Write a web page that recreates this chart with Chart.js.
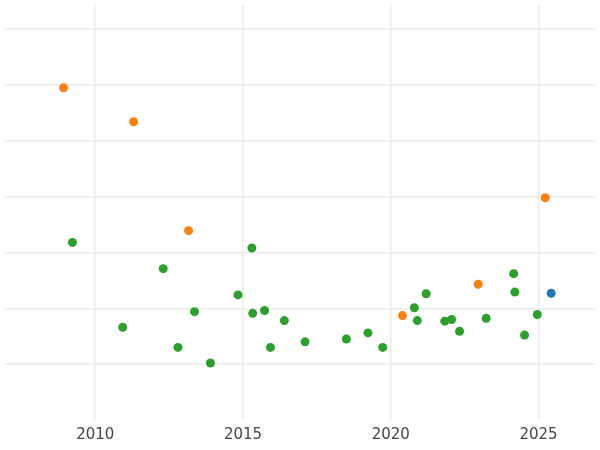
<!DOCTYPE html>
<html>
<head>
<script src="https://cdn.jsdelivr.net/npm/chart.js@4"></script>
<style>
  html, body { margin: 0; padding: 0; background: #fff; }
  #wrap { width: 600px; height: 450px; }
</style>
</head>
<body>
<div id="wrap"><canvas id="c"></canvas></div>
<script>
// Data
const orangeX = [2008.93, 2011.30, 2013.16, 2020.40, 2022.96, 2025.23];
const orangeY = [5.95, 5.34, 3.39, 1.87, 2.43, 3.98];
const blueX = [2025.43];
const blueY = [2.27];
const greenX = [2009.23, 2010.93, 2012.30, 2012.80, 2013.36, 2013.90, 2014.83, 2015.30, 2015.33,
  2015.73, 2015.93, 2016.40, 2017.10, 2018.50, 2019.23, 2019.73, 2020.80, 2020.90, 2021.20,
  2021.83, 2022.06, 2022.33, 2023.23, 2024.16, 2024.20, 2024.53, 2024.96];
const greenY = [3.18, 1.66, 2.71, 1.30, 1.94, 1.02, 2.24, 3.08, 1.91,
  1.96, 1.30, 1.78, 1.40, 1.45, 1.56, 1.30, 2.01, 1.78, 2.26,
  1.77, 1.80, 1.59, 1.82, 2.62, 2.29, 1.52, 1.89];
const xTicks = [2010, 2015, 2020, 2025];

const pts = (xs, ys) => xs.map((x, i) => ({ x: x, y: ys[i] }));
const ds = (xs, ys, color) => ({
    data: pts(xs, ys),
    backgroundColor: color,
    borderWidth: 0,
    pointRadius: 4.5
});

new Chart(document.getElementById('c'), {
    type: 'scatter',
    data: {
        datasets: [
            ds(greenX, greenY, '#2ca02c'),
            ds(orangeX, orangeY, '#ff7f0e'),
            ds(blueX, blueY, '#1f77b4')
        ]
    },
    options: {
        responsive: true,
        maintainAspectRatio: false,
        animation: false,
        layout: { padding: { top: -3, right: -3, left: 0, bottom: 0 } },
        plugins: { legend: { display: false }, tooltip: { enabled: false } },
        scales: {
            x: {
                type: 'linear',
                min: 2006.93,
                max: 2026.93,
                afterBuildTicks: axis => { axis.ticks = xTicks.map(v => ({ value: v })); },
                grid: { color: '#ebebeb', lineWidth: 1.5, drawTicks: false },
                border: { display: false },
                ticks: {
                    color: '#444',
                    font: { family: 'DejaVu Sans', size: 15 },
                    padding: 6,
                    callback: v => String(v)
                }
            },
            y: {
                min: 0,
                max: 7.44,
                afterFit: s => { s.width = 0; },
                afterBuildTicks: axis => { axis.ticks = [1, 2, 3, 4, 5, 6, 7].map(v => ({ value: v })); },
                ticks: { display: false },
                grid: { color: '#ebebeb', lineWidth: 1.5, drawTicks: false },
                border: { display: false }
            }
        }
    }
});
</script>
</body>
</html>
